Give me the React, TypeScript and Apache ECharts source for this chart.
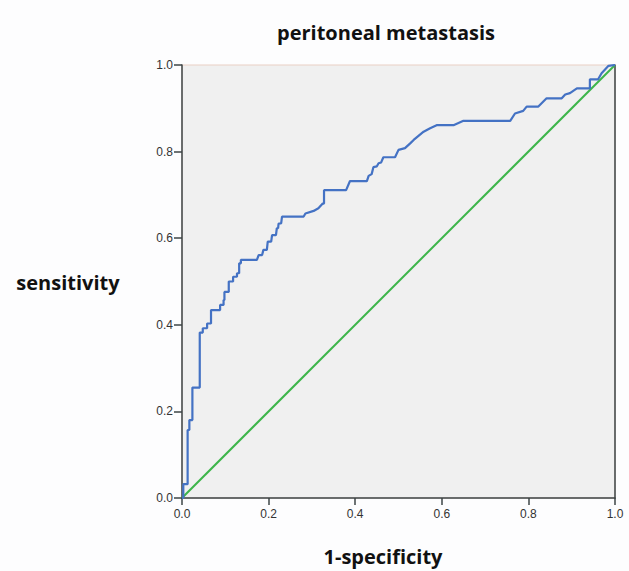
import React, { useEffect, useRef } from "react";
import * as echarts from "echarts";

const fpr = [
  0, 0.003, 0.003, 0.013, 0.013, 0.017, 0.017, 0.024, 0.024, 0.041, 0.041, 0.048, 0.048, 0.058, 0.058, 0.067, 0.067,
  0.088, 0.088, 0.096, 0.096, 0.098, 0.098, 0.108, 0.108, 0.118, 0.118, 0.127, 0.127, 0.132, 0.132, 0.136, 0.136,
  0.173, 0.177, 0.185, 0.188, 0.196, 0.198, 0.206, 0.208, 0.217, 0.219, 0.222, 0.223, 0.229, 0.231, 0.281, 0.285,
  0.304, 0.315, 0.325, 0.328, 0.328, 0.379, 0.388, 0.427, 0.431, 0.438, 0.442, 0.45, 0.454, 0.46, 0.465, 0.492,
  0.5, 0.515, 0.527, 0.535, 0.542, 0.558, 0.573, 0.588, 0.627, 0.65, 0.758, 0.769, 0.788, 0.796, 0.823, 0.842,
  0.877, 0.885, 0.896, 0.912, 0.942, 0.942, 0.961, 0.969, 0.985, 1,
];
const tpr = [
  0, 0, 0.032, 0.032, 0.157, 0.157, 0.18, 0.18, 0.255, 0.255, 0.382, 0.382, 0.392, 0.392, 0.403, 0.403, 0.434,
  0.434, 0.446, 0.446, 0.457, 0.457, 0.476, 0.476, 0.5, 0.5, 0.511, 0.511, 0.519, 0.519, 0.542, 0.542, 0.55,
  0.55, 0.561, 0.561, 0.573, 0.573, 0.592, 0.592, 0.607, 0.607, 0.623, 0.623, 0.634, 0.634, 0.65, 0.65, 0.657,
  0.663, 0.669, 0.68, 0.68, 0.711, 0.711, 0.732, 0.732, 0.744, 0.748, 0.764, 0.766, 0.773, 0.775, 0.787, 0.787,
  0.804, 0.808, 0.819, 0.827, 0.833, 0.846, 0.854, 0.861, 0.861, 0.871, 0.871, 0.888, 0.894, 0.904, 0.904, 0.923,
  0.923, 0.932, 0.935, 0.946, 0.946, 0.967, 0.967, 0.981, 0.998, 1,
];
const refX = [0, 1];
const refY = [0, 1];

const titleText = "peritoneal metastasis";
const yName = "sensitivity";
const xName = "1-specificity";

export default function App() {
  const ref = useRef<HTMLDivElement>(null);
  useEffect(() => {
    document.body.style.margin = "0";
    if (!ref.current) return;
    const chart = echarts.init(ref.current, null, { renderer: "svg" });
    const axisLabel = {
      color: "#333",
      fontFamily: "Liberation Sans",
      fontSize: 12,
      formatter: (v: number) => v.toFixed(1),
    };
    const bold = {
      fontFamily: "Open Sans",
      fontWeight: "bold",
      fontSize: 20,
      fill: "#111",
      textAlign: "center",
      textVerticalAlign: "middle",
    };
    chart.setOption({
      animation: false,
      backgroundColor: "#fdfdfe",
      grid: {
        left: 182,
        right: 14,
        top: 65,
        bottom: 73,
        show: true,
        backgroundColor: "#f0f0f0",
        borderColor: "#e9cfc4",
        borderWidth: 1,
      },
      xAxis: {
        type: "value",
        min: 0,
        max: 1,
        interval: 0.2,
        axisLine: { show: true, onZero: false, lineStyle: { color: "#3d4446", width: 1.5 } },
        axisTick: { show: true, length: 7, lineStyle: { color: "#3d4446", width: 1.5 } },
        axisLabel: { ...axisLabel, margin: 10 },
        splitLine: { show: false },
      },
      yAxis: [
        {
          type: "value",
          min: 0,
          max: 1,
          interval: 0.2,
          axisLine: { show: true, onZero: false, lineStyle: { color: "#3d4446", width: 1.5 } },
          axisTick: { show: true, length: 8, lineStyle: { color: "#3d4446", width: 1.5 } },
          axisLabel: { ...axisLabel, margin: 9 },
          splitLine: { show: false },
        },
        {
          type: "value",
          min: 0,
          max: 1,
          position: "right",
          axisLine: { show: true, onZero: false, lineStyle: { color: "#3d4446", width: 1.5 } },
          axisTick: { show: false },
          axisLabel: { show: false },
          splitLine: { show: false },
        },
      ],
      series: [
        {
          type: "line",
          data: refX.map((x, i) => [x, refY[i]]),
          showSymbol: false,
          lineStyle: { color: "#3db54a", width: 2 },
          z: 2,
        },
        {
          type: "line",
          data: fpr.map((x, i) => [x, tpr[i]]),
          showSymbol: false,
          lineStyle: { color: "#4472c4", width: 2.2 },
          z: 3,
        },
      ],
      graphic: [
        { type: "text", x: 386, y: 32, style: { ...bold, text: titleText } },
        { type: "text", x: 68, y: 282, style: { ...bold, text: yName } },
        { type: "text", x: 383, y: 556, style: { ...bold, text: xName } },
      ],
    });
    return () => chart.dispose();
  }, []);
  return <div ref={ref} style={{ width: 629, height: 571 }} />;
}
